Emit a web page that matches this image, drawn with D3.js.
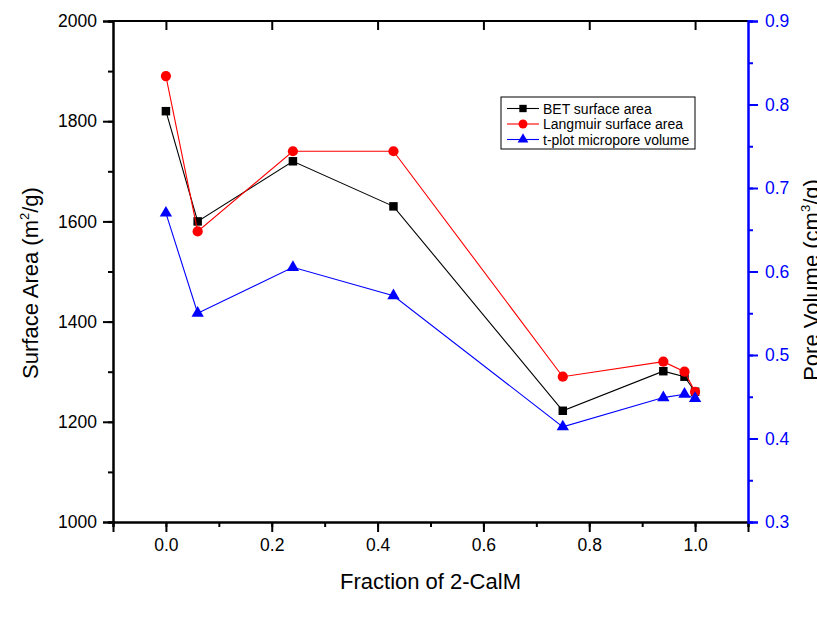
<!DOCTYPE html>
<html>
<head>
<meta charset="utf-8">
<script src="https://cdn.jsdelivr.net/npm/d3@7"></script>
<style>
  body { margin: 0; background: #fff; }
  svg text { font-family: Arial, "Liberation Sans", sans-serif; }
</style>
</head>
<body>
<svg id="chart" width="817" height="620"></svg>
<script>
// Data
const fractions = [0, 0.06, 0.24, 0.43, 0.75, 0.94, 0.98, 1.0];
const betArea = [1820, 1600, 1720, 1630, 1222, 1301, 1290, 1260];
const langmuirArea = [1890, 1580, 1740, 1740, 1290, 1320, 1300, 1260];
const microporeVolume = [0.67, 0.55, 0.605, 0.571, 0.414, 0.449, 0.453, 0.448];

const xTicks = [0, 0.2, 0.4, 0.6, 0.8, 1.0];
const leftTicks = [1000, 1200, 1400, 1600, 1800, 2000];
const rightTicks = [0.3, 0.4, 0.5, 0.6, 0.7, 0.8, 0.9];

const svg = d3.select('#chart');
const m = { left: 113, right: 748, top: 21, bottom: 522 };
const blue = '#0000ff';
const tickFont = 17.5;

const x = d3.scaleLinear().domain([-0.1, 1.1]).range([m.left, m.right]);
const yL = d3.scaleLinear().domain([1000, 2000]).range([m.bottom, m.top]);
const yR = d3.scaleLinear().domain([0.3, 0.9]).range([m.bottom, m.top]);

// frame line on top
svg.append('line').attr('x1', m.left).attr('x2', m.right).attr('y1', m.top).attr('y2', m.top)
  .attr('stroke', '#000').attr('stroke-width', 2);

// bottom axis
const xMinor = d3.range(-0.1, 1.1001, 0.1).map(v => Math.round(v * 10) / 10);
const bottomAxis = svg.append('g').attr('transform', `translate(0,${m.bottom})`)
  .call(d3.axisBottom(x).tickValues(xMinor).tickSize(5).tickFormat(''));
const bottomMajor = svg.append('g').attr('transform', `translate(0,${m.bottom})`)
  .call(d3.axisBottom(x).tickValues(xTicks).tickSize(10).tickPadding(7).tickFormat(d3.format('.1f')));
[bottomAxis, bottomMajor].forEach(g => {
  g.select('.domain').attr('stroke-width', 2);
  g.selectAll('.tick line').attr('stroke-width', 2);
});
bottomMajor.selectAll('text').attr('font-size', tickFont).attr('fill', '#000');

// top ticks (inward)
const topAxis = svg.append('g').attr('transform', `translate(0,${m.top})`)
  .call(d3.axisBottom(x).tickValues(xTicks).tickSize(9).tickFormat(''));
topAxis.select('.domain').remove();
topAxis.selectAll('.tick line').attr('stroke-width', 2);

// left axis
const yMinorL = d3.range(1000, 2001, 100);
const leftAxis = svg.append('g').attr('transform', `translate(${m.left},0)`)
  .call(d3.axisLeft(yL).tickValues(yMinorL).tickSize(5).tickFormat(''));
const leftMajor = svg.append('g').attr('transform', `translate(${m.left},0)`)
  .call(d3.axisLeft(yL).tickValues(leftTicks).tickSize(10).tickPadding(6).tickFormat(d3.format('d')));
[leftAxis, leftMajor].forEach(g => {
  g.select('.domain').attr('stroke-width', 2);
  g.selectAll('.tick line').attr('stroke-width', 2);
});
leftMajor.selectAll('text').attr('font-size', tickFont).attr('fill', '#000');

// right axis
const yMinorR = d3.range(0.3, 0.9001, 0.05).map(v => Math.round(v * 100) / 100);
const rightAxis = svg.append('g').attr('transform', `translate(${m.right},0)`)
  .call(d3.axisRight(yR).tickValues(yMinorR).tickSize(5).tickFormat(''));
const rightMajor = svg.append('g').attr('transform', `translate(${m.right},0)`)
  .call(d3.axisRight(yR).tickValues(rightTicks).tickSize(10).tickPadding(7).tickFormat(d3.format('.1f')));
[rightAxis, rightMajor].forEach(g => {
  g.select('.domain').attr('stroke', blue).attr('stroke-width', 2);
  g.selectAll('.tick line').attr('stroke', blue).attr('stroke-width', 2);
});
rightMajor.selectAll('text').attr('font-size', tickFont).attr('fill', blue);

// axis titles
svg.append('text').attr('x', (m.left + m.right) / 2).attr('y', 589)
  .attr('text-anchor', 'middle').attr('font-size', 22).text('Fraction of 2-CalM');

const lt = svg.append('text').attr('transform', 'translate(38,283) rotate(-90)')
  .attr('text-anchor', 'middle').attr('font-size', 22);
lt.append('tspan').text('Surface Area (m');
lt.append('tspan').attr('font-size', 13).attr('dy', -9).text('2');
lt.append('tspan').attr('dy', 9).text('/g)');

// right title is cut by the page edge, as in the reference
const rt = svg.append('text').attr('transform', 'translate(819,280) rotate(-90)')
  .attr('text-anchor', 'middle').attr('font-size', 22);
rt.append('tspan').text('Pore Volume (cm');
rt.append('tspan').attr('font-size', 13).attr('dy', -9).text('3');
rt.append('tspan').attr('dy', 9).text('/g)');

// series
const series = [
  { name: 'BET surface area', values: betArea, y: yL, color: '#000', shape: d3.symbolSquare, size: 72 },
  { name: 'Langmuir surface area', values: langmuirArea, y: yL, color: '#ff0000', shape: d3.symbolCircle, size: 82 },
  { name: 't-plot micropore volume', values: microporeVolume, y: yR, color: blue, shape: d3.symbolTriangle, size: 66 }
];

series.forEach(s => {
  const pts = fractions.map((f, i) => [x(f), s.y(s.values[i])]);
  svg.append('path').attr('d', d3.line()(pts))
    .attr('fill', 'none').attr('stroke', s.color).attr('stroke-width', 1.1);
  svg.append('g').selectAll('path').data(pts).join('path')
    .attr('transform', d => `translate(${d[0]},${d[1]})`)
    .attr('d', d3.symbol().type(s.shape).size(s.size))
    .attr('fill', s.color);
});

// legend
const lg = svg.append('g').attr('transform', 'translate(501,97)');
lg.append('rect').attr('width', 194).attr('height', 52)
  .attr('fill', '#fff').attr('stroke', '#000').attr('stroke-width', 1);
series.forEach((s, i) => {
  const yy = 11.5 + i * 15.5;
  lg.append('line').attr('x1', 6).attr('x2', 38).attr('y1', yy).attr('y2', yy)
    .attr('stroke', s.color).attr('stroke-width', 1.1);
  lg.append('path').attr('transform', `translate(22,${yy})`)
    .attr('d', d3.symbol().type(s.shape).size(s.size * 0.75)).attr('fill', s.color);
  lg.append('text').attr('x', 42).attr('y', yy + 5).attr('font-size', 14).text(s.name);
});
</script>
</body>
</html>
